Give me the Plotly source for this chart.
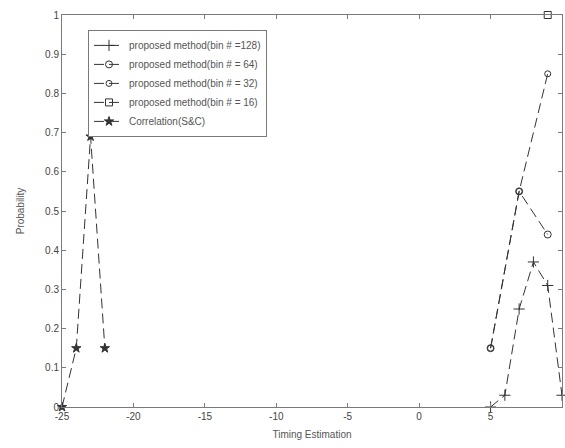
import plotly.graph_objects as go

# Data
bin128_x = [5, 6, 7, 8, 9, 10]
bin128_y = [0.0, 0.03, 0.25, 0.37, 0.31, 0.03]
bin64_x = [5, 7, 9]
bin64_y = [0.15, 0.55, 0.44]
bin32_x = [5, 7, 9]
bin32_y = [0.15, 0.55, 0.85]
bin16_x = [9]
bin16_y = [1.0]
corr_x = [-25, -24, -23, -22]
corr_y = [0.0, 0.15, 0.69, 0.15]

names = [
    "proposed method(bin # =128)",
    "proposed method(bin # = 64)",
    "proposed method(bin # = 32)",
    "proposed method(bin # = 16)",
    "Correlation(S&C)",
]

x_ticks = [-25, -20, -15, -10, -5, 0, 5, 10]
y_ticks = [0, 0.1, 0.2, 0.3, 0.4, 0.5, 0.6, 0.7, 0.8, 0.9, 1]

line_color = "#333333"
fig = go.Figure()

series = [
    (bin128_x, bin128_y, "cross-thin-open", 8, "10px,5px"),
    (bin64_x, bin64_y, "circle-open", 7, "10px,5px"),
    (bin32_x, bin32_y, "circle-open", 6, "10px,5px"),
    (bin16_x, bin16_y, "square-open", 7, "10px,5px"),
    (corr_x, corr_y, "star", 7, "10px,5px"),
]
for (xs, ys, sym, sz, dash), nm in zip(series, names):
    fig.add_trace(go.Scatter(
        x=xs, y=ys, name=nm, mode="lines+markers", cliponaxis=False,
        line=dict(color=line_color, width=1, dash=dash),
        marker=dict(symbol=sym, size=sz, color=line_color,
                    line=dict(color=line_color, width=1)),
    ))

axis_common = dict(
    showline=True, linecolor="#7a7a7a", linewidth=1, mirror="ticks",
    ticks="inside", ticklen=4, tickcolor="#7a7a7a",
    showgrid=False, zeroline=False, automargin=False,
    tickfont=dict(family="Liberation Sans, Arial", size=10, color="#444444"),
)

fig.update_layout(
    width=565, height=448,
    margin=dict(l=62, r=3, t=15, b=41),
    paper_bgcolor="white", plot_bgcolor="white",
    font=dict(family="Liberation Sans, Arial", size=10, color="#444444"),
    xaxis=dict(range=[-25, 10], tickvals=x_ticks,
               ticktext=[str(v) for v in x_ticks],
               title=dict(text="Timing Estimation", standoff=9,
                          font=dict(size=10, color="#555555")),
               **axis_common),
    yaxis=dict(range=[0, 1], tickvals=y_ticks,
               ticktext=["0", "0.1", "0.2", "0.3", "0.4", "0.5", "0.6", "0.7", "0.8", "0.9", "1"],
               title=dict(text="Probability", standoff=18,
                          font=dict(size=10, color="#555555")),
               **axis_common),
    legend=dict(x=0.052, y=0.962, xanchor="left", yanchor="top",
                bordercolor="#7a7a7a", borderwidth=1, bgcolor="white",
                font=dict(size=10, color="#555555"),
                tracegroupgap=0, itemwidth=30),
    showlegend=True,
)

fig.write_html("out.html", config={"displayModeBar": False},
               post_script="document.body.style.margin='0';document.body.style.overflow='hidden';")
